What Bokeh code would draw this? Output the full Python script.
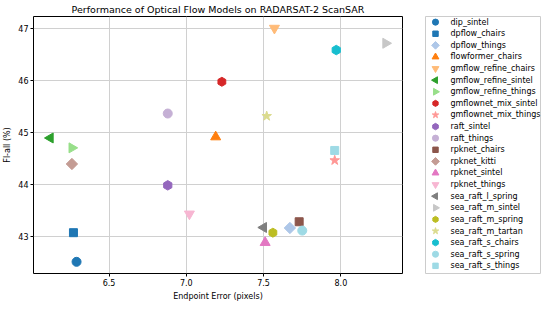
import math
from bokeh.plotting import figure
from bokeh.layouts import row
from bokeh.models import Range1d, FixedTicker, ColumnDataSource
from bokeh.core.properties import value
from bokeh.embed import file_html
from bokeh.resources import INLINE

# ---- data ----
models = ["dip_sintel", "dpflow_chairs", "dpflow_things", "flowformer_chairs",
          "gmflow_refine_chairs", "gmflow_refine_sintel", "gmflow_refine_things",
          "gmflownet_mix_sintel", "gmflownet_mix_things", "raft_sintel", "raft_things",
          "rpknet_chairs", "rpknet_kitti", "rpknet_sintel", "rpknet_things",
          "sea_raft_l_spring", "sea_raft_m_sintel", "sea_raft_m_spring",
          "sea_raft_m_tartan", "sea_raft_s_chairs", "sea_raft_s_spring", "sea_raft_s_things"]
epe = [6.29, 6.27, 7.67, 7.19, 7.57, 6.12, 6.26, 7.23, 7.96, 6.88, 6.88,
       7.73, 6.26, 7.51, 7.02, 7.50, 8.29, 7.56, 7.52, 7.97, 7.75, 7.96]
fl_all = [42.52, 43.08, 43.17, 44.92, 47.01, 44.90, 44.71, 45.98, 44.47, 43.99, 45.37,
          43.29, 44.40, 42.89, 43.44, 43.18, 46.72, 43.08, 45.32, 46.59, 43.12, 44.66]
x_ticks = [6.5, 7.0, 7.5, 8.0]
y_ticks = [43, 44, 45, 46, 47]

# ---- styles ----
colors = ["#1f77b4", "#1f77b4", "#aec7e8", "#ff7f0e", "#ffbb78", "#2ca02c", "#98df8a",
          "#d62728", "#ff9896", "#9467bd", "#c5b0d5", "#8c564b", "#c49c94", "#e377c2",
          "#f7b6d2", "#7f7f7f", "#c7c7c7", "#bcbd22", "#dbdb8d", "#17becf", "#9edae5", "#9edae5"]
mpl_markers = ["o", "s", "D", "^", "v", "<", ">", "p", "*", "h"]
marker_map = {
    "o": ("circle", 0.0, 9),
    "s": ("square", 0.0, 8),
    "D": ("square", math.pi / 4, 8),
    "^": ("triangle", 0.0, 10),
    "v": ("inverted_triangle", 0.0, 10),
    "<": ("triangle", math.pi / 2, 10),
    ">": ("triangle", -math.pi / 2, 10),
    "p": ("hex", math.pi / 6, 9),
    "*": ("star", 0.0, 10),
    "h": ("hex", math.pi / 6, 9.5),
}
marks = [marker_map[mpl_markers[i % len(mpl_markers)]] for i in range(len(models))]

FONT = "DejaVu Sans"

xspan = max(epe) - min(epe)
yspan = max(fl_all) - min(fl_all)
p = figure(width=404, height=321,
           x_range=Range1d(min(epe) - 0.05 * xspan, max(epe) + 0.05 * xspan),
           y_range=Range1d(min(fl_all) - 0.05 * yspan, max(fl_all) + 0.05 * yspan),
           output_backend="svg", toolbar_location=None,
           min_border_left=0, min_border_right=2, min_border_top=0, min_border_bottom=0)

p.title.text = "Performance of Optical Flow Models on RADARSAT-2 ScanSAR"
p.title.align = "center"
p.title.text_font = FONT
p.title.text_font_size = "9.5px"
p.title.text_font_style = "normal"
p.title.text_color = "#000000"
p.title.standoff = 3

src = ColumnDataSource(dict(
    x=epe, y=fl_all, color=colors,
    marker=[m[0] for m in marks], angle=[m[1] for m in marks], size=[m[2] for m in marks]))
p.scatter(x="x", y="y", source=src, marker="marker", angle="angle", size="size",
          fill_color="color", line_color="color")

p.xaxis.axis_label = "Endpoint Error (pixels)"
p.yaxis.axis_label = "Fl-all (%)"
p.xaxis.ticker = FixedTicker(ticks=x_ticks)
p.yaxis.ticker = FixedTicker(ticks=y_ticks)
p.xaxis.major_label_overrides = {t: f"{t:.1f}" for t in x_ticks}
p.yaxis.major_label_overrides = {t: f"{t:d}" for t in y_ticks}
for ax in (p.xaxis, p.yaxis):
    ax.axis_label_text_font = FONT
    ax.axis_label_text_font_size = "8px"
    ax.axis_label_text_font_style = "normal"
    ax.axis_label_text_color = "#000000"
    ax.major_label_text_font = FONT
    ax.major_label_text_font_size = "8px"
    ax.major_label_text_color = "#000000"
    ax.axis_line_color = None
    ax.major_tick_line_color = "#000000"
    ax.major_tick_out = 3
    ax.major_tick_in = 0
    ax.minor_tick_line_color = None
    ax.major_label_standoff = 2
    ax.axis_label_standoff = 3
p.grid.grid_line_color = "#d0d0d0"
p.grid.grid_line_width = 1
p.outline_line_color = "#000000"
p.outline_line_width = 1
p.background_fill_color = "white"

# ---- legend panel ----
box_w, box_h = 115, 260
row_h = 11.74
leg = figure(width=140, height=321, x_range=Range1d(0, box_w), y_range=Range1d(box_h, 0),
             output_backend="svg", toolbar_location=None,
             min_border_left=21, min_border_right=4, min_border_top=13, min_border_bottom=48)
leg.axis.visible = False
leg.grid.visible = False
leg.outline_line_color = "#cccccc"
leg.outline_line_width = 1
ly = [5.7 + i * row_h for i in range(len(models))]
lsrc = ColumnDataSource(dict(
    x=[10.0] * len(models), tx=[25.0] * len(models), y=ly, label=models, color=colors,
    marker=[m[0] for m in marks], angle=[m[1] for m in marks],
    size=[m[2] * 0.68 for m in marks]))
leg.scatter(x="x", y="y", source=lsrc, marker="marker", angle="angle", size="size",
            fill_color="color", line_color="color")
leg.text(x="tx", y="y", text="label", source=lsrc, text_font=value(FONT),
         text_font_size="8px", text_baseline="middle", text_align="left", text_color="#000000")

layout = row(p, leg)
open("out.html", "w").write(file_html(layout, INLINE))
